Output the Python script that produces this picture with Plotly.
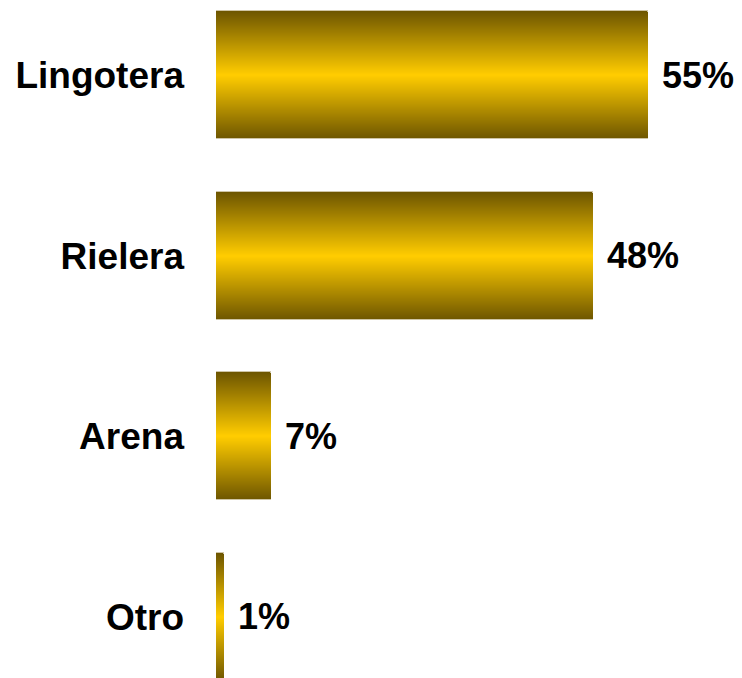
import plotly.graph_objects as go

categories = ["Lingotera", "Rielera", "Arena", "Otro"]
values = [55, 48, 7, 1]
labels = ["55%", "48%", "7%", "1%"]

dark = (110, 86, 0)
bright = (255, 204, 0)
n_layers = 64
bar_width = 0.708

fig = go.Figure()
for k in range(n_layers):
    t = k / (n_layers - 1)
    c = tuple(round(dark[i] + (bright[i] - dark[i]) * t) for i in range(3))
    w = bar_width * (1 - k / n_layers)
    fig.add_trace(go.Bar(
        x=values, y=categories, orientation="h",
        width=[w] * len(values),
        marker=dict(color=f"rgb{c}",
                    line=dict(color="#CFC5A5", width=1) if k == 0 else dict(width=0)),
        hoverinfo="skip", showlegend=False,
    ))

font = dict(family="Liberation Sans, Arial", size=37, color="black", weight="bold")
pfont = dict(family="Liberation Sans, Arial", size=36, color="black", weight="bold")

for cat, v, lab in zip(categories, values, labels):
    fig.add_annotation(x=v, y=cat, text=lab, xanchor="left", yanchor="middle",
                       xshift=13, showarrow=False, font=pfont, borderpad=0)

fig.update_layout(
    width=734, height=670,
    margin=dict(l=208, r=0, t=0, b=0),
    barmode="overlay", bargap=0,
    paper_bgcolor="white", plot_bgcolor="white",
    showlegend=False,
    font=font,
)
fig.update_xaxes(range=[0, 66.97], visible=False, fixedrange=True)
fig.update_yaxes(type="category", categoryorder="array", categoryarray=categories,
                 range=[3.338, -0.371], showgrid=False, zeroline=False, showline=False,
                 ticks="", ticklabelstandoff=31, automargin=False, tickfont=font)

fig.write_html("out.html")
